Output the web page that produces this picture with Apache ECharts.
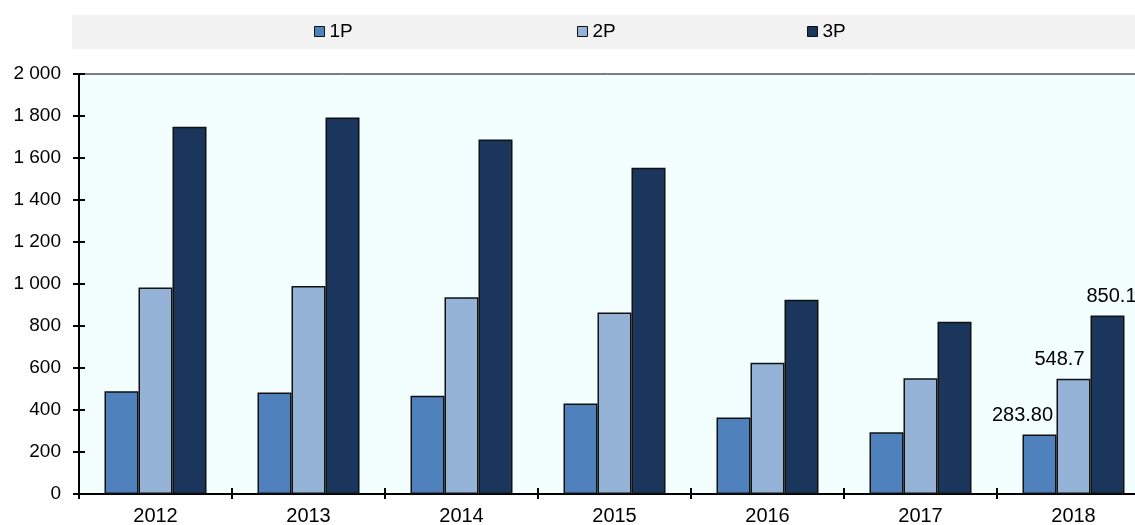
<!DOCTYPE html>
<html>
<head>
<meta charset="utf-8">
<script src="https://cdn.jsdelivr.net/npm/echarts@6/dist/echarts.min.js"></script>
<style>
  html, body { margin: 0; padding: 0; background: #fff; }
  #chart { width: 1135px; height: 525px; }
</style>
</head>
<body>
<div id="chart"></div>
<script>
// data
var years = ['2012', '2013', '2014', '2015', '2016', '2017', '2018'];
var p1 = [489, 483, 468, 431, 364, 294, 283.8];
var p2 = [983, 991, 937, 864, 625, 551, 548.7];
var p3 = [1749, 1793, 1688, 1553, 925, 820, 850.1];
// only the last year carries a value label
var p1Labels = ['', '', '', '', '', '', '283.80'];
var p2Labels = ['', '', '', '', '', '', '548.7'];
var p3Labels = ['', '', '', '', '', '', '850.1'];

var font = 'Arial, "Liberation Sans", sans-serif';

function withLabels(values, labels, offsetX) {
    return values.map(function (v, i) {
        var item = { value: v };
        if (labels[i]) {
            item.label = {
                show: true,
                position: 'top',
                distance: 9,
                offset: [offsetX, 0],
                formatter: labels[i],
                color: '#000',
                fontSize: 20,
                fontFamily: font
            };
        }
        return item;
    });
}

function spaced(v) {
    return String(v).replace(/\B(?=(\d{3})+(?!\d))/g, ' ');
}

function legendAt(name, left) {
    return {
        data: [name],
        left: left,
        top: 22,
        itemWidth: 10,
        itemHeight: 10,
        icon: 'rect',
        padding: 0,
        selectedMode: false,
        textStyle: { fontSize: 19, color: '#000', fontFamily: font },
        itemStyle: { borderColor: '#111', borderWidth: 1 }
    };
}

var chart = echarts.init(document.getElementById('chart'));
chart.setOption({
    animation: false,
    textStyle: { fontFamily: font },
    graphic: [{
        type: 'rect',
        z: -10,
        shape: { x: 72, y: 15, width: 1063, height: 34 },
        style: { fill: '#f2f2f2' }
    }],
    legend: [
        legendAt('1P', 314),
        legendAt('2P', 577),
        legendAt('3P', 807)
    ],
    grid: {
        left: 79,
        top: 74,
        width: 1071,
        height: 420,
        outerBoundsMode: 'none',
        containLabel: false,
        show: true,
        backgroundColor: '#f3fefe',
        borderColor: '#000',
        borderWidth: 1
    },
    xAxis: [{
        type: 'category',
        data: years,
        axisLine: { lineStyle: { color: '#000', width: 2 } },
        axisTick: { show: true, length: 5, lineStyle: { color: '#000', width: 2 } },
        axisLabel: { fontSize: 20, color: '#000', margin: 12 },
        splitLine: { show: false }
    }, {
        type: 'category',
        data: years,
        position: 'bottom',
        axisLine: { show: false },
        axisTick: { show: true, inside: true, length: 6, lineStyle: { color: '#000', width: 2 } },
        axisLabel: { show: false },
        splitLine: { show: false }
    }],
    yAxis: [{
        type: 'value',
        min: 0,
        max: 2000,
        interval: 200,
        axisLine: { show: true, lineStyle: { color: '#000', width: 2 } },
        axisTick: { show: true, length: 6, lineStyle: { color: '#000', width: 2 } },
        axisLabel: { fontSize: 19, color: '#000', margin: 18, formatter: spaced },
        splitLine: { show: false }
    }, {
        type: 'value',
        min: 0,
        max: 2000,
        interval: 200,
        position: 'left',
        axisLine: { show: false },
        axisTick: { show: true, inside: true, length: 6, lineStyle: { color: '#000', width: 2 } },
        axisLabel: { show: false },
        splitLine: { show: false }
    }],
    series: [{
        name: '1P',
        type: 'bar',
        barWidth: 34,
        barGap: '0%',
        itemStyle: { color: '#4f81bd', borderColor: '#111', borderWidth: 1.5 },
        data: withLabels(p1, p1Labels, -17)
    }, {
        name: '2P',
        type: 'bar',
        barWidth: 34,
        barGap: '0%',
        itemStyle: { color: '#95b3d7', borderColor: '#111', borderWidth: 1.5 },
        data: withLabels(p2, p2Labels, -14)
    }, {
        name: '3P',
        type: 'bar',
        barWidth: 34,
        barGap: '0%',
        itemStyle: { color: '#1a365d', borderColor: '#111', borderWidth: 1.5 },
        data: withLabels(p3, p3Labels, 4)
    }]
});
</script>
</body>
</html>
